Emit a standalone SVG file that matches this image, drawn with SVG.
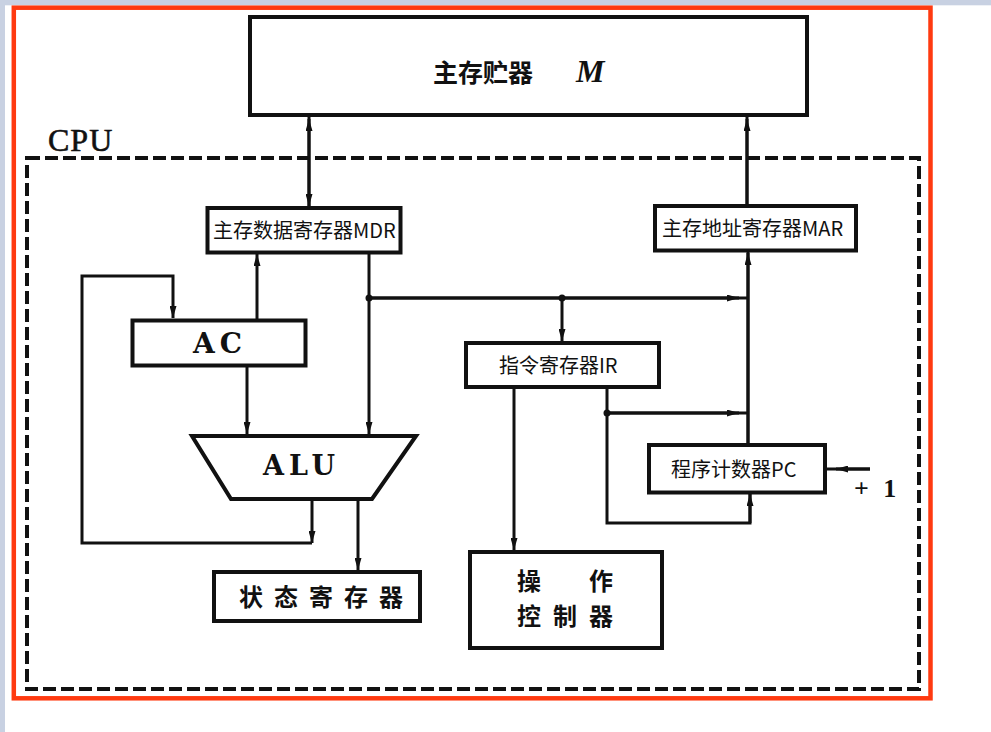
<svg xmlns="http://www.w3.org/2000/svg" width="991" height="732" viewBox="0 0 991 732">
  <style>
    .box { fill: #fff; stroke: #111; stroke-width: 4; }
    .wire { fill: none; stroke: #111; stroke-width: 3; }
    .arr { fill: none; stroke: #111; stroke-width: 3; marker-end: url(#ah); }
    .dot { fill: #111; }
    .lbl { font-family: "Noto Sans CJK SC", "Noto Sans", sans-serif; font-size: 20px; fill: #111; }
    .cjkb { font-family: "Noto Sans CJK SC", sans-serif; font-weight: bold; font-size: 24px; fill: #111; }
    .serifb { font-family: "DejaVu Serif", "Liberation Serif", serif; font-weight: bold; fill: #111; }
  </style>
  <defs>
    <marker id="ah" viewBox="0 0 12 7" refX="12" refY="3.5" markerWidth="12" markerHeight="7" orient="auto" markerUnits="userSpaceOnUse">
      <path d="M0,0 L12,3.5 L0,7 Z" fill="#111"/>
    </marker>
  </defs>

  <!-- page frame -->
  <rect x="0" y="0" width="991" height="732" fill="#fff"/>
  <rect x="0" y="0" width="991" height="5.3" fill="#c8d1e2"/>
  <rect x="0" y="0" width="5" height="732" fill="#c8d1e2"/>
  <rect x="13.8" y="7.7" width="916.7" height="690.6" fill="none" stroke="#ff3a10" stroke-width="4.5"/>

  <!-- CPU boundary -->
  <g id="cpu">
    <rect x="27" y="158" width="892" height="531" fill="none" stroke="#111" stroke-width="4" stroke-dasharray="13 5"/>
    <text x="48" y="151" font-family="Liberation Serif, serif" font-size="32" letter-spacing="1" stroke="#111" stroke-width="0.6" fill="#111">CPU</text>
  </g>

  <!-- connectors -->
  <g id="connectors">
    <!-- memory <-> MDR -->
    <path class="arr" d="M309,208 V119"/>
    <path class="arr" d="M309,115 V206"/>
    <!-- MAR -> memory -->
    <path class="wire" d="M747,206 V115"/>
    <path class="arr" d="M747,206 V119"/>
    <!-- AC -> MDR -->
    <path class="arr" d="M257,320 V254"/>
    <!-- MDR -> ALU -->
    <path class="arr" d="M369,252 V434"/>
    <!-- bus from MDR line to MAR line -->
    <path class="wire" d="M369,298 H748"/>
    <path class="arr" d="M369,298 H739"/>
    <!-- bus -> IR -->
    <path class="arr" d="M562,298 V341"/>
    <!-- AC -> ALU -->
    <path class="arr" d="M247,366 V434"/>
    <!-- ALU feedback -> AC -->
    <path class="arr" d="M312,499 V543"/>
    <path class="arr" d="M312,543 H82 V276 H173 V318"/>
    <!-- ALU -> status -->
    <path class="arr" d="M358,499 V570"/>
    <!-- IR -> control -->
    <path class="arr" d="M514,387 V550"/>
    <!-- IR address field -> MAR line and PC -->
    <path class="wire" d="M607,387 V523 H750 V494"/>
    <path class="arr" d="M750,523 V494"/>
    <path class="wire" d="M607,413 H748"/>
    <path class="arr" d="M607,413 H739"/>
    <!-- PC -> MAR -->
    <path class="wire" d="M748,445 V250"/>
    <path class="arr" d="M748,445 V253"/>
    <!-- +1 -> PC -->
    <path class="wire" d="M826,469 H870"/>
    <path class="arr" d="M870,469 H836"/>
    <text x="854" y="497" font-family="Liberation Serif, serif" font-weight="bold" font-size="26" letter-spacing="4" fill="#111">+ 1</text>
    <!-- junctions -->
    <circle class="dot" cx="369" cy="298" r="3.5"/>
    <circle class="dot" cx="562" cy="298" r="3.5"/>
    <circle class="dot" cx="607" cy="413" r="3.5"/>
  </g>

  <g id="memory">
    <rect class="box" x="250" y="17" width="557" height="98"/>
    <text x="433" y="81.5" font-family="Noto Sans CJK SC, sans-serif" font-weight="bold" font-size="25" fill="#111">主存贮器<tspan x="576" y="82" font-family="Liberation Serif, serif" font-style="italic" font-size="32">M</tspan></text>
  </g>

  <g id="mdr">
    <rect class="box" x="207.5" y="208" width="193" height="44.5"/>
    <text class="lbl" x="213" y="237.6">主存数据寄存器MDR</text>
  </g>

  <g id="mar">
    <rect class="box" x="655" y="206" width="201" height="44.5"/>
    <text class="lbl" x="662" y="235.6">主存地址寄存器MAR</text>
  </g>

  <g id="ac">
    <rect class="box" x="132.5" y="320.5" width="173" height="45"/>
    <text class="serifb" x="193" y="353" font-size="28" letter-spacing="5">AC</text>
  </g>

  <g id="alu">
    <polygon class="box" points="192,436 416,436 372,499 231,499"/>
    <text class="serifb" x="263" y="475" font-size="27" letter-spacing="5">ALU</text>
  </g>

  <g id="ir">
    <rect class="box" x="466" y="343" width="193" height="44"/>
    <text class="lbl" x="499" y="372.6">指令寄存器IR</text>
  </g>

  <g id="pc">
    <rect class="box" x="649" y="445" width="176" height="47.5"/>
    <text class="lbl" x="671" y="476.6">程序计数器PC</text>
  </g>

  <g id="status">
    <rect class="box" x="214" y="572" width="206" height="49"/>
    <text class="cjkb" x="239" y="606" letter-spacing="11">状态寄存器</text>
  </g>

  <g id="control">
    <rect class="box" x="470" y="552" width="192" height="96"/>
    <text class="cjkb" letter-spacing="12"><tspan x="517" y="589.5">操　作</tspan><tspan x="517" y="624.5">控制器</tspan></text>
  </g>
</svg>
